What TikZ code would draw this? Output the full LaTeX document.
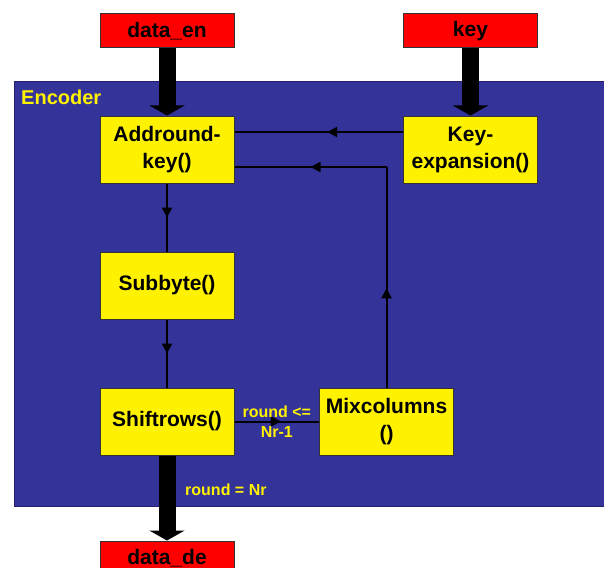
\documentclass[tikz,border=0pt]{standalone}
\usepackage{fontspec}
\setmainfont{Liberation Sans}
\usetikzlibrary{arrows.meta,decorations.markings}
\definecolor{encblue}{RGB}{51,51,153}
\definecolor{encedge}{RGB}{40,30,110}

\begin{document}
\begin{tikzpicture}[x=1pt,y=-1pt,
	func/.style={draw=black!80, line width=1pt, fill=yellow, minimum width=134pt, minimum height=67pt, align=center, inner sep=0pt, font=\fontsize{21}{27}\selectfont\bfseries},
	io/.style={draw=black!80, line width=1pt, fill=red, minimum width=134pt, minimum height=34pt, inner sep=0pt, font=\fontsize{21}{27}\selectfont\bfseries},
	bus/.style={line width=17pt, -{Triangle[width=35pt,length=10pt]}},
	wire/.style={line width=2pt},
	midarrow/.style={postaction=decorate, decoration={markings, mark=at position #1 with {\arrow{Triangle[width=10pt,length=10pt]}}}},
	cond/.style={text=yellow, align=center, inner sep=0pt, font=\fontsize{16}{20}\selectfont\bfseries}]
	\useasboundingbox (0,0) rectangle (604,567);

	% encoder frame
	\node[fill=encblue, draw=encedge, line width=1pt, minimum width=590pt, minimum height=424pt, inner sep=0pt] (frame) at (309,294) {};
	\node[text=yellow, anchor=base west, inner sep=0pt, font=\fontsize{20}{24}\selectfont\bfseries] (enclabel) at (21,105) {Encoder};

	\node[io] (din) at (167,31) {data\_en};
	\node[io] (key) at (470.5,31) {key};
	\node[io] (dout) at (167,558) {data\_de};

	\node[func] (addkey) at (167,149.5) {Addround-\\key()};
	\node[func] (keyexp) at (470.5,149.5) {Key-\\expansion()};
	\node[func] (subbyte) at (167,285.5) {Subbyte()};
	\node[func] (shift) at (167,421.5) {Shiftrows()};
	\node[func] (mix) at (386.5,421.5) {Mixcolumns\\()};

	\coordinate (turn) at (mix.north |- 0,167);

	% data buses
	\draw[bus] (din) -- (addkey);
	\draw[bus] (key) -- (keyexp);
	\draw[bus] (shift) -- (dout);

	% round loop
	\draw[wire, midarrow=0.5] (addkey) -- (subbyte);
	\draw[wire, midarrow=0.5] (subbyte) -- (shift);
	\draw[wire, midarrow=0.55] (shift) -- (mix)
		node[cond, midway] (lastround) {round <=\\Nr-1};
	\draw[wire, midarrow=0.45] ([yshift=17.5pt]keyexp.west) -- ([yshift=17.5pt]addkey.east);
	\draw[wire, midarrow=0.45] (mix.north) -- (turn);
	\draw[wire, midarrow=0.5] (turn) -- (addkey.east |- turn);

	\node[cond, anchor=base west] (done) at (185,495) {round = Nr};
\end{tikzpicture}
\end{document}
